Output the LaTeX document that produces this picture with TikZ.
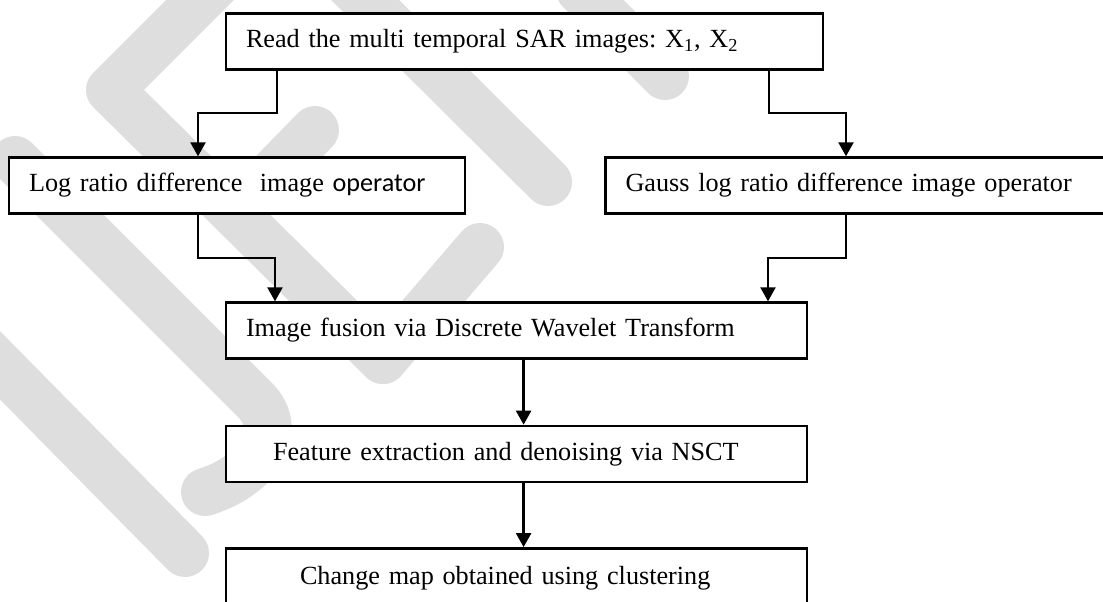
\documentclass[tikz,border=0pt]{standalone}
\usepackage{fontspec}
\setmainfont{Liberation Serif}
\newfontfamily\calibfont{Carlito}
\usetikzlibrary{arrows.meta}
\begin{document}
\frenchspacing
\begin{tikzpicture}[x=0.5pt,y=-0.5pt,
  stepbox/.style={draw, line width=1.2pt, fill=white, rectangle, minimum height=28pt,
    inner xsep=10pt, inner ysep=0pt, align=left, font=\fontsize{13.1}{16}\selectfont},
  conn/.style={line width=1.2pt, -{Triangle[width=7.5pt,length=7pt]}},
  wm/.style={line width=24pt, line cap=round, line join=round, draw=black!13}]
\useasboundingbox (0,0) rectangle (1103,601);
\clip (0,0) rectangle (1103,601);

% background logo strokes
\draw[wm] (222,-22) -- (110,90) -- (383,360);
\draw[wm] (480,247) -- (383,360);
\draw[wm] (315,130) -- (235,212);
\draw[wm] (345,-20) -- (548,182);
\draw[wm] (580,-10) -- (665,76);
\draw[wm] (15,160) -- (255,400) .. controls (285,430) and (260,475) .. (205,492);
\draw[wm] (-20,345) -- (185,553);

% process steps
\node[stepbox, text width=278.5pt] (read) at (524.5,41.3)
  {Read the multi temporal SAR images: X\textsubscript{1}, X\textsubscript{2}};
\node[stepbox, text width=208pt] (log) at (237,185.5)
  {Log ratio difference~ image {\calibfont operator}};
\node[stepbox, text width=230.25pt] (gauss) at (855.75,185.5)
  {Gauss log ratio difference image operator};
\node[stepbox, text width=270.5pt] (fusion) at (516.5,330.5)
  {Image fusion via Discrete Wavelet Transform};
\node[stepbox, text width=270.5pt] (nsct) at (516.5,453.85)
  {\hspace*{13.5pt}Feature extraction and denoising via NSCT};
\node[stepbox, text width=270.5pt, minimum height=30pt] (change) at (516.5,578.3)
  {\hspace*{27pt}Change map obtained using clustering};

% connectors
\coordinate (a1) at (277,113);
\coordinate (a2) at (198,113);
\draw[conn] (read.south -| a1) -- (a1) -- (a2) -- (log.north -| a2);
\coordinate (b1) at (769,113);
\coordinate (b2) at (846,113);
\draw[conn] (read.south -| b1) -- (b1) -- (b2) -- (gauss.north -| b2);
\coordinate (c1) at (198,257.7);
\coordinate (c2) at (275,257.7);
\draw[conn] (log.south -| c1) -- (c1) -- (c2) -- (fusion.north -| c2);
\coordinate (d1) at (846,257.7);
\coordinate (d2) at (768,257.7);
\draw[conn] (gauss.south -| d1) -- (d1) -- (d2) -- (fusion.north -| d2);
\coordinate (e) at (523.6,0);
\draw[conn] (fusion.south -| e) -- (nsct.north -| e);
\draw[conn] (nsct.south -| e) -- (change.north -| e);
\end{tikzpicture}
\end{document}
